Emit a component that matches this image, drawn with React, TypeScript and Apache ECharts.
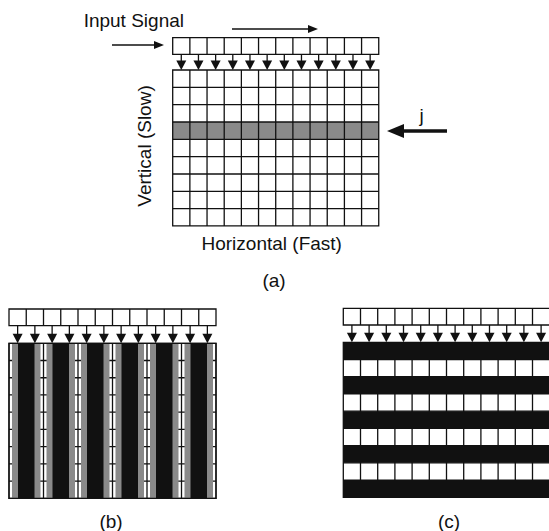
import React, { useEffect, useRef } from "react";
import * as echarts from "echarts";

// ---- Diagram content ----
const COLS = 12;
const ROWS = 9;
const highlightRowA = [3]; // shaded row "j" in panel (a)
const blackRowsC = [0, 2, 4, 6, 8]; // black rows in panel (c)
const blackBoundariesB = [1, 3, 5, 7, 9, 11]; // column boundaries covered by black bands in (b)
const labels = {
  input: "Input Signal",
  vertical: "Vertical (Slow)",
  horizontal: "Horizontal (Fast)",
  j: "j",
  a: "(a)",
  b: "(b)",
  c: "(c)",
};

type Panel = { x0: number; cw: number; regTop: number; regH: number; gridTop: number; rh: number };
const PA: Panel = { x0: 172.7, cw: 17.17, regTop: 37.7, regH: 16.6, gridTop: 70, rh: 17.33 };
const PB: Panel = { x0: 9, cw: 17.25, regTop: 309, regH: 16.7, gridTop: 343.3, rh: 17.22 };
const PC: Panel = { x0: 343.3, cw: 17.2, regTop: 308.3, regH: 16.7, gridTop: 342.3, rh: 17.22 };

const INK = "#111";
const GRAY = "#8a8a8a";
const LW = 1.3;
const FONT = "'Liberation Sans', Arial, sans-serif";

function registerAndArrows(p: Panel): any[] {
  const els: any[] = [];
  // register row
  els.push({
    type: "rect",
    shape: { x: p.x0, y: p.regTop, width: p.cw * COLS, height: p.regH },
    style: { fill: "#fff", stroke: INK, lineWidth: LW },
  });
  for (let c = 1; c < COLS; c++) {
    const x = p.x0 + c * p.cw;
    els.push({
      type: "line",
      shape: { x1: x, y1: p.regTop, x2: x, y2: p.regTop + p.regH },
      style: { stroke: INK, lineWidth: LW },
    });
  }
  // down arrows
  const regBottom = p.regTop + p.regH;
  const triH = 9.5;
  const triW = 10;
  for (let c = 0; c < COLS; c++) {
    const cx = p.x0 + (c + 0.5) * p.cw;
    els.push({
      type: "line",
      shape: { x1: cx, y1: regBottom, x2: cx, y2: p.gridTop - triH + 1 },
      style: { stroke: INK, lineWidth: LW },
    });
    els.push({
      type: "polygon",
      shape: {
        points: [
          [cx - triW / 2, p.gridTop - triH],
          [cx + triW / 2, p.gridTop - triH],
          [cx, p.gridTop],
        ],
      },
      style: { fill: INK },
    });
  }
  return els;
}

function gridLines(p: Panel): any[] {
  const els: any[] = [];
  const w = p.cw * COLS;
  const h = p.rh * ROWS;
  for (let r = 1; r < ROWS; r++) {
    const y = p.gridTop + r * p.rh;
    els.push({ type: "line", shape: { x1: p.x0, y1: y, x2: p.x0 + w, y2: y }, style: { stroke: INK, lineWidth: LW } });
  }
  for (let c = 1; c < COLS; c++) {
    const x = p.x0 + c * p.cw;
    els.push({ type: "line", shape: { x1: x, y1: p.gridTop, x2: x, y2: p.gridTop + h }, style: { stroke: INK, lineWidth: LW } });
  }
  els.push({
    type: "rect",
    shape: { x: p.x0, y: p.gridTop, width: w, height: h },
    style: { fill: "none", stroke: INK, lineWidth: LW },
  });
  return els;
}

function arrowRight(x1: number, x2: number, y: number, lw: number, headL: number, headHalf: number): any[] {
  return [
    { type: "line", shape: { x1, y1: y, x2: x2 - headL + 1, y2: y }, style: { stroke: INK, lineWidth: lw } },
    {
      type: "polygon",
      shape: { points: [[x2 - headL, y - headHalf], [x2, y], [x2 - headL, y + headHalf]] },
      style: { fill: INK },
    },
  ];
}

function arrowLeft(x1: number, x2: number, y: number, lw: number, headL: number, headHalf: number): any[] {
  // x1 is the tail (right), x2 the tip (left)
  return [
    { type: "line", shape: { x1, y1: y, x2: x2 + headL - 1, y2: y }, style: { stroke: INK, lineWidth: lw } },
    {
      type: "polygon",
      shape: { points: [[x2 + headL, y - headHalf], [x2, y], [x2 + headL, y + headHalf]] },
      style: { fill: INK },
    },
  ];
}

function text(t: string, x: number, y: number, size: number, align = "center", rotation = 0): any {
  return {
    type: "text",
    x,
    y,
    rotation,
    style: {
      text: t,
      fill: INK,
      font: `${size}px ${FONT}`,
      align,
      verticalAlign: "middle",
    },
  };
}

function buildGraphic(): any[] {
  const els: any[] = [];
  const FS = 19;

  // ---------- Panel (a) ----------
  els.push(...registerAndArrows(PA));
  els.push({
    type: "rect",
    shape: { x: PA.x0, y: PA.gridTop, width: PA.cw * COLS, height: PA.rh * ROWS },
    style: { fill: "#fff" },
  });
  highlightRowA.forEach((r) => {
    els.push({
      type: "rect",
      shape: { x: PA.x0, y: PA.gridTop + r * PA.rh, width: PA.cw * COLS, height: PA.rh },
      style: { fill: GRAY },
    });
  });
  els.push(...gridLines(PA));
  els.push(...arrowRight(232, 318, 29, 1.3, 10, 4));
  els.push(...arrowRight(112, 164, 45, 1.3, 10, 4));
  els.push(...arrowLeft(447, 387, 131, 3.5, 17, 7));
  els.push(text(labels.input, 184, 20.5, FS, "right"));
  els.push(text(labels.j, 421.5, 115, FS));
  els.push(text(labels.vertical, 144, 146, FS, "center", Math.PI / 2));
  els.push(text(labels.horizontal, 271.7, 243, FS));
  els.push(text(labels.a, 274, 280, FS));

  // ---------- Panel (b) ----------
  els.push(...registerAndArrows(PB));
  els.push({
    type: "rect",
    shape: { x: PB.x0, y: PB.gridTop, width: PB.cw * COLS, height: PB.rh * ROWS },
    style: { fill: "#fff" },
  });
  els.push(...gridLines(PB));
  const hB = PB.rh * ROWS;
  blackBoundariesB.forEach((b) => {
    const cx = PB.x0 + b * PB.cw;
    const blackHalf = 8.25;
    const grayW = 6;
    els.push({
      type: "rect",
      shape: { x: cx - blackHalf - grayW, y: PB.gridTop, width: 2 * (blackHalf + grayW), height: hB },
      style: { fill: GRAY },
    });
    els.push({
      type: "rect",
      shape: { x: cx - blackHalf, y: PB.gridTop, width: 2 * blackHalf, height: hB },
      style: { fill: INK },
    });
  });
  els.push({
    type: "rect",
    shape: { x: PB.x0, y: PB.gridTop, width: PB.cw * COLS, height: hB },
    style: { fill: "none", stroke: INK, lineWidth: LW },
  });
  els.push(text(labels.b, 111, 521, FS));

  // ---------- Panel (c) ----------
  els.push(...registerAndArrows(PC));
  els.push({
    type: "rect",
    shape: { x: PC.x0, y: PC.gridTop, width: PC.cw * COLS, height: PC.rh * ROWS },
    style: { fill: "#fff" },
  });
  els.push(...gridLines(PC));
  blackRowsC.forEach((r) => {
    els.push({
      type: "rect",
      shape: { x: PC.x0, y: PC.gridTop + r * PC.rh, width: PC.cw * COLS, height: PC.rh },
      style: { fill: INK },
    });
  });
  els.push(text(labels.c, 449, 521, FS));

  return els;
}

export default function App() {
  const ref = useRef<HTMLDivElement>(null);
  useEffect(() => {
    if (!ref.current) return;
    const chart = echarts.init(ref.current, null, { renderer: "svg" });
    chart.setOption({
      animation: false,
      backgroundColor: "#fff",
      graphic: { elements: buildGraphic() },
    });
    return () => chart.dispose();
  }, []);
  return (
    <div
      ref={ref}
      style={{ position: "absolute", left: 0, top: 0, width: 549, height: 531 }}
    />
  );
}
